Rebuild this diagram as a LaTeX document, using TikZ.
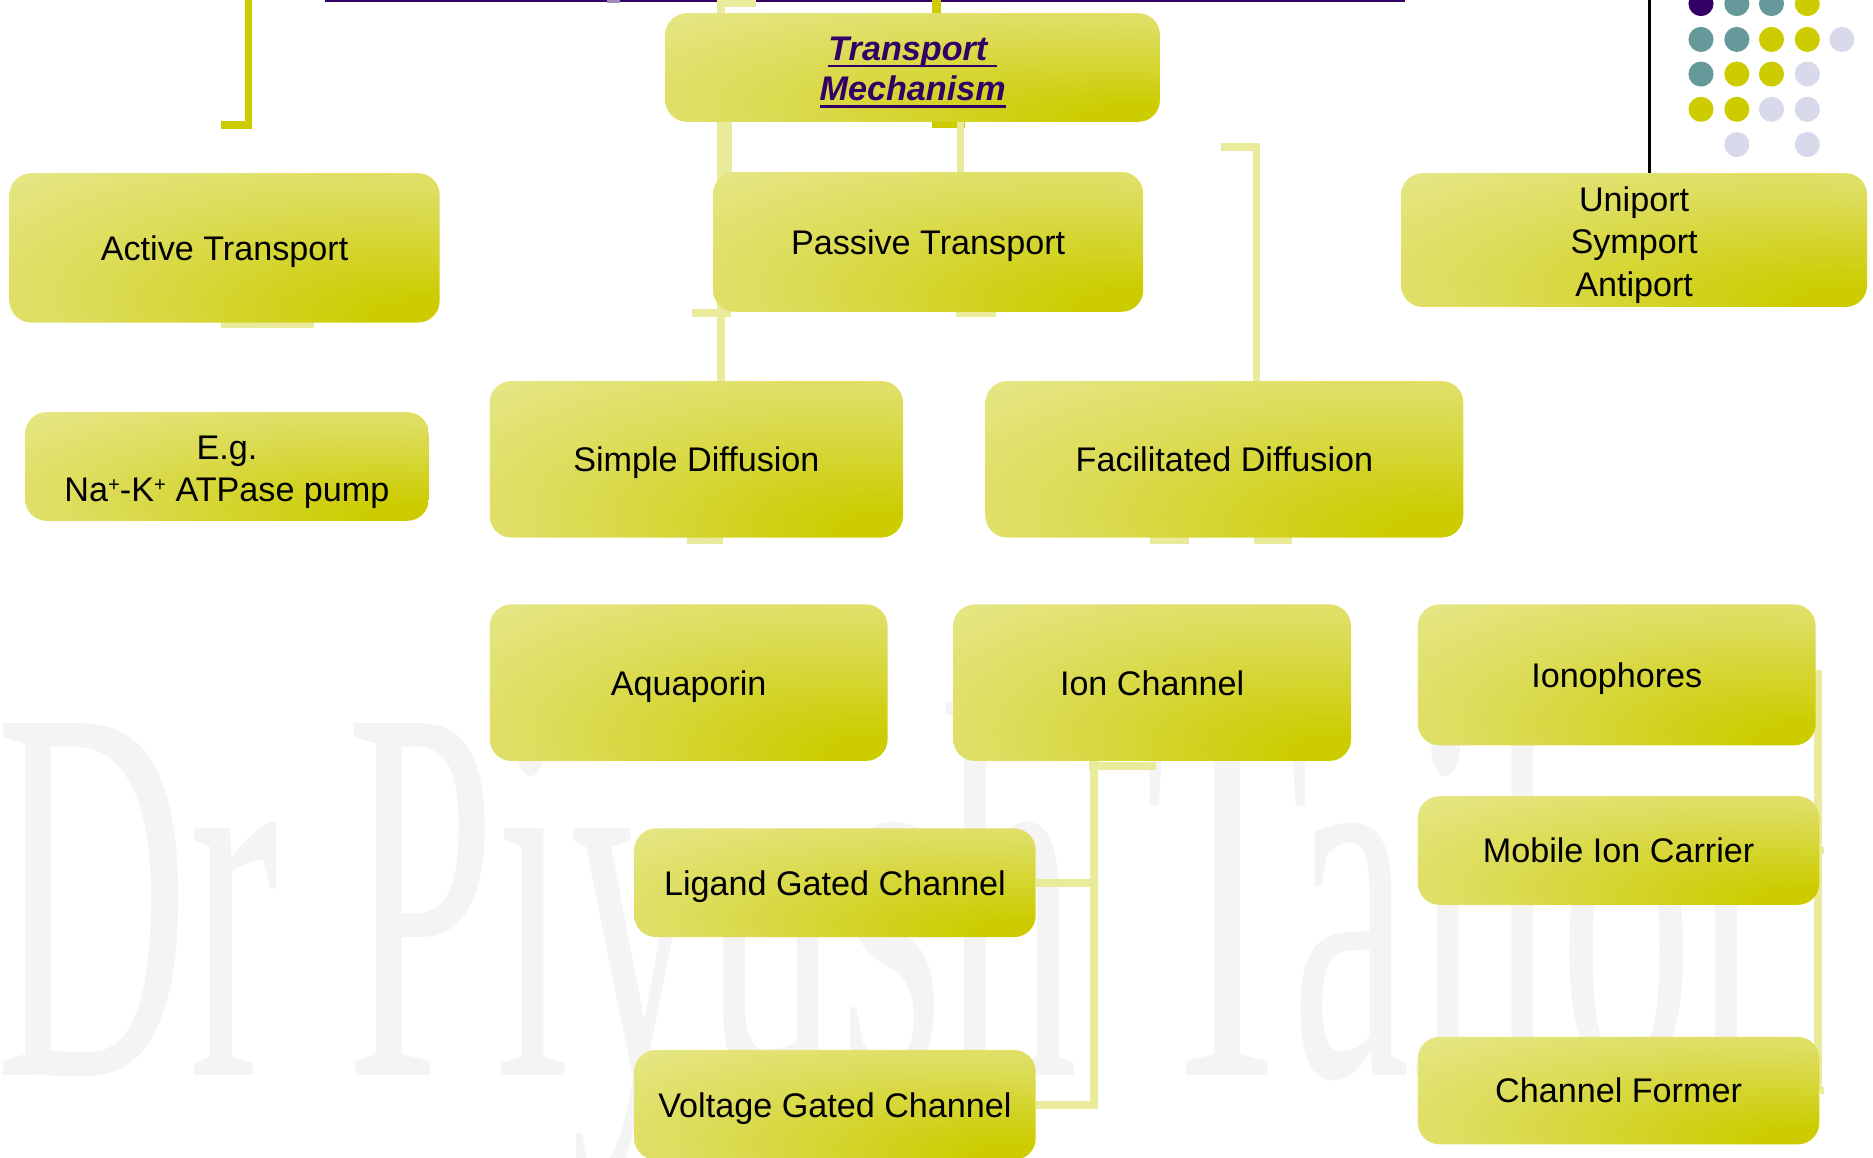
\documentclass[tikz,border=0pt]{standalone}
\usepackage{fontspec}
\setmainfont{Liberation Sans}
\newfontfamily\wmfont{Liberation Serif}
\usetikzlibrary{backgrounds}
\definecolor{ylight}{HTML}{EAEA98}
\definecolor{yedge}{HTML}{E6E686}
\definecolor{ymid}{HTML}{DCDC58}
\definecolor{ydark}{HTML}{CCCC00}
\definecolor{lline}{HTML}{EAEA9C}
\definecolor{purp}{HTML}{330066}
\definecolor{dteal}{HTML}{669999}
\definecolor{lav}{HTML}{D9D9EC}
\definecolor{wmgray}{HTML}{F4F4F5}
\pgfdeclareradialshading{boxshade}{\pgfpoint{25bp}{-25bp}}{color(0bp)=(ydark); color(6bp)=(ydark); color(33bp)=(ymid); color(52bp)=(yedge); color(70bp)=(ylight); color(100bp)=(ylight)}
\newcommand\myul[1]{\setbox0=\hbox{#1}\rlap{\rule[-3pt]{\wd0}{1.1pt}}\box0}
\newcommand\supplus{\raisebox{0.3em}{\fontsize{8.5}{8.5}\selectfont +}}
\begin{document}
\begin{tikzpicture}[x=0.5pt,y=-0.5pt,
  box/.style={rounded corners=9pt, shading=boxshade, inner sep=0pt, align=center,
    font=\fontsize{14.3}{17.6}\selectfont, text=black, text depth=0pt},
  shapebox/.style={rounded corners=9pt, shading=boxshade, inner sep=0pt},
  txt/.style={inner sep=0pt, align=center, text=black},
  conn/.style={draw=lline, line width=3.2pt},
  dconn/.style={draw=ydark, line width=3.2pt},
  dotn/.style={circle, minimum size=10.5pt, inner sep=0pt},
]
\useasboundingbox (0,0) rectangle (1568,969);

% boxes with several lines: shape and text apart
\node[shapebox, minimum width=207pt, minimum height=45.5pt] (tm) at (764,56.5) {};
\node[txt, text=purp, font=\fontsize{14.3}{17}\selectfont\bfseries\itshape]
  (tmt) at ([yshift=-2pt]tm.center) {\myul{Transport\ }\\\myul{Mechanism}};
\node[shapebox, minimum width=195pt, minimum height=56pt] (uni) at (1368,201) {};
\node[txt, font=\fontsize{14.3}{17.75}\selectfont]
  (unit) at ([yshift=-2pt]uni.center) {Uniport\\Symport\\Antiport};
\node[shapebox, minimum width=169pt, minimum height=45.5pt] (eg) at (190,390.5) {};
\node[txt, font=\fontsize{14.3}{17.5}\selectfont]
  (egt) at ([yshift=-2.5pt]eg.center) {E.g.\\Na\supplus-K\supplus{} ATPase pump};

% boxes with one line
\node[box, minimum width=180pt, minimum height=62.5pt] (act) at (188,207.5) {Active Transport};
\node[box, minimum width=180pt, minimum height=58.5pt] (pas) at (777,202.5) {Passive Transport};
\node[box, minimum width=173pt, minimum height=65.5pt] (sim) at (583,384.5) {Simple Diffusion};
\node[box, minimum width=200pt, minimum height=65.5pt] (fac) at (1025,384.5) {Facilitated Diffusion};
\node[box, minimum width=166.5pt, minimum height=65.5pt] (aqu) at (576.5,571.5) {Aquaporin};
\node[box, minimum width=166.5pt, minimum height=65.5pt] (ion) at (964.5,571.5) {Ion Channel};
\node[box, minimum width=166.5pt, minimum height=59pt] (iono) at (1353.5,565) {Ionophores};
\node[box, minimum width=168pt, minimum height=45.5pt] (lig) at (699,739) {Ligand Gated Channel};
\node[box, minimum width=168pt, minimum height=45.5pt] (mob) at (1355,712) {Mobile Ion Carrier};
\node[box, minimum width=168pt, minimum height=46pt] (vol) at (699,925) {Voltage Gated Channel};
\node[box, minimum width=168pt, minimum height=45pt] (cha) at (1355,913) {Channel Former};

% dots
\foreach \x/\y/\c [count=\i] in {
  1424/3/purp, 1454/3/dteal, 1483/3/dteal, 1513/3/ydark,
  1424/33/dteal, 1454/33/dteal, 1483/33/ydark, 1513/33/ydark, 1542/33/lav,
  1424/62/dteal, 1454/62/ydark, 1483/62/ydark, 1513/62/lav,
  1424/91.5/ydark, 1454/91.5/ydark, 1483/91.5/lav, 1513/91.5/lav,
  1454/121/lav, 1513/121/lav}
  \node[dotn, fill=\c] (dot\i) at (\x,\y) {};

\begin{pgfonlayer}{background}
  \node[anchor=base west, inner sep=0pt, text=wmgray,
    font=\wmfont\fontsize{225}{225}\selectfont] (wmk) at (-4,900)
    {\scalebox{0.5}[1]{Dr Piyush Tailor}};

  % free ends above the picture
  \coordinate (tlA) at (208,-5);
  \coordinate (tlB) at (185,104.5);
  \draw[dconn] (tlA) |- (tlB);
  \draw[purp, line width=1pt] (272,1) -- (1176,1);
  \fill[purp!45!white] (508,0) rectangle (519,2.5);
  \draw[dconn, line width=3.6pt] (784,-3) -- (tm.north -| 784,0);
  \fill[ydark] (780,100) rectangle (808,107);

  % passive transport branch
  \draw[conn] (603.5,-3) -- (sim.north -| 603.5,0);
  \draw[conn] (600,3) -- (633,3);
  \draw[conn] (609.5,100) -- (609.5,146);
  \draw[conn] (579,262) -- (612,262);
  \draw[conn] (tm.south -| 804,0) -- (pas.north -| 804,0);
  \draw[conn] (800,262) -- (834,262);
  \draw[conn] (185,271) -- (263,271);
  \draw[conn] (1022,123) -| (fac.north -| 1052,0);
  \draw[black, line width=1.2pt] (1381,-3) -- (uni.north -| 1381,0);

  % stubs under diffusion boxes
  \draw[conn] (575,452) -- (605,452);
  \draw[conn] (963,452) -- (995,452);
  \draw[conn] (1050,452) -- (1082,452);

  % ion channel
  \draw[conn] (ion.south -| 916,0) |- (vol.east);
  \draw[conn] (lig.east) -- (lig.east -| 916,0);
  \draw[conn] (912,641) -- (968,641);

  % carriers
  \draw[conn] (1522,561) -- (1522,913);
  \draw[conn] (mob.east) -- (1527,712);
  \draw[conn] (cha.east) -- (1527,913);
\end{pgfonlayer}
\end{tikzpicture}
\end{document}
